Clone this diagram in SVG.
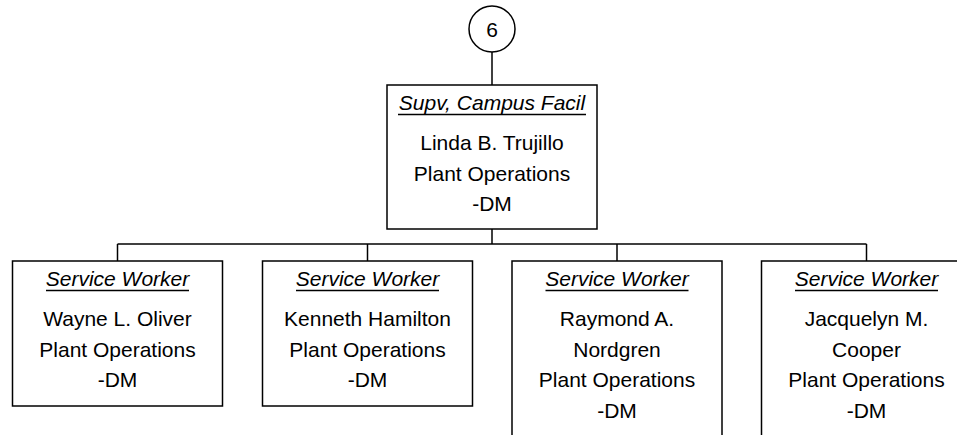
<svg xmlns="http://www.w3.org/2000/svg" width="957" height="435" viewBox="0 0 957 435">
<style>
.box{fill:#fff;stroke:#000;stroke-width:1.5}
.ln{fill:none;stroke:#000;stroke-width:1.5}
.ul{stroke:#000;stroke-width:1.4}
text{font-family:"Liberation Sans",Arial,sans-serif;font-size:21px;fill:#000;text-anchor:middle}
.t{font-style:italic}
</style>
<rect width="957" height="435" fill="#fff"/>
<g id="connectors">
<line class="ln" x1="492" y1="52" x2="492" y2="85"/>
<line class="ln" x1="492" y1="229" x2="492" y2="244"/>
<line class="ln" x1="117.5" y1="244" x2="866.5" y2="244"/>
<line class="ln" x1="117.5" y1="244" x2="117.5" y2="261"/>
<line class="ln" x1="367.5" y1="244" x2="367.5" y2="261"/>
<line class="ln" x1="617" y1="244" x2="617" y2="261"/>
<line class="ln" x1="866.5" y1="244" x2="866.5" y2="261"/>
</g>
<g id="ref6">
<circle class="box" cx="492" cy="29" r="23"/>
<text x="492" y="36.5">6</text>
</g>
<g id="supv">
<rect class="box" x="387" y="85" width="210" height="144"/>
<text class="t" x="492" y="110">Supv, Campus Facil</text>
<line class="ul" x1="398" y1="114.5" x2="586" y2="114.5"/>
<text x="492" y="150">Linda B. Trujillo</text>
<text x="492" y="180.5">Plant Operations</text>
<text x="492" y="211">-DM</text>
</g>
<g id="w1">
<rect class="box" x="12.5" y="261" width="210" height="145"/>
<text class="t" x="117.5" y="286">Service Worker</text>
<line class="ul" x1="46" y1="290.5" x2="189" y2="290.5"/>
<text x="117.5" y="326">Wayne L. Oliver</text>
<text x="117.5" y="356.5">Plant Operations</text>
<text x="117.5" y="387">-DM</text>
</g>
<g id="w2">
<rect class="box" x="262.5" y="261" width="210" height="145"/>
<text class="t" x="367.5" y="286">Service Worker</text>
<line class="ul" x1="296" y1="290.5" x2="439" y2="290.5"/>
<text x="367.5" y="326">Kenneth Hamilton</text>
<text x="367.5" y="356.5">Plant Operations</text>
<text x="367.5" y="387">-DM</text>
</g>
<g id="w3">
<rect class="box" x="512" y="261" width="210" height="185"/>
<text class="t" x="617" y="286">Service Worker</text>
<line class="ul" x1="545.5" y1="290.5" x2="688.5" y2="290.5"/>
<text x="617" y="326">Raymond A.</text>
<text x="617" y="356.5">Nordgren</text>
<text x="617" y="387">Plant Operations</text>
<text x="617" y="418">-DM</text>
</g>
<g id="w4">
<rect class="box" x="761.5" y="261" width="210" height="185"/>
<text class="t" x="866.5" y="286">Service Worker</text>
<line class="ul" x1="795" y1="290.5" x2="938" y2="290.5"/>
<text x="866.5" y="326">Jacquelyn M.</text>
<text x="866.5" y="356.5">Cooper</text>
<text x="866.5" y="387">Plant Operations</text>
<text x="866.5" y="418">-DM</text>
</g>
</svg>
